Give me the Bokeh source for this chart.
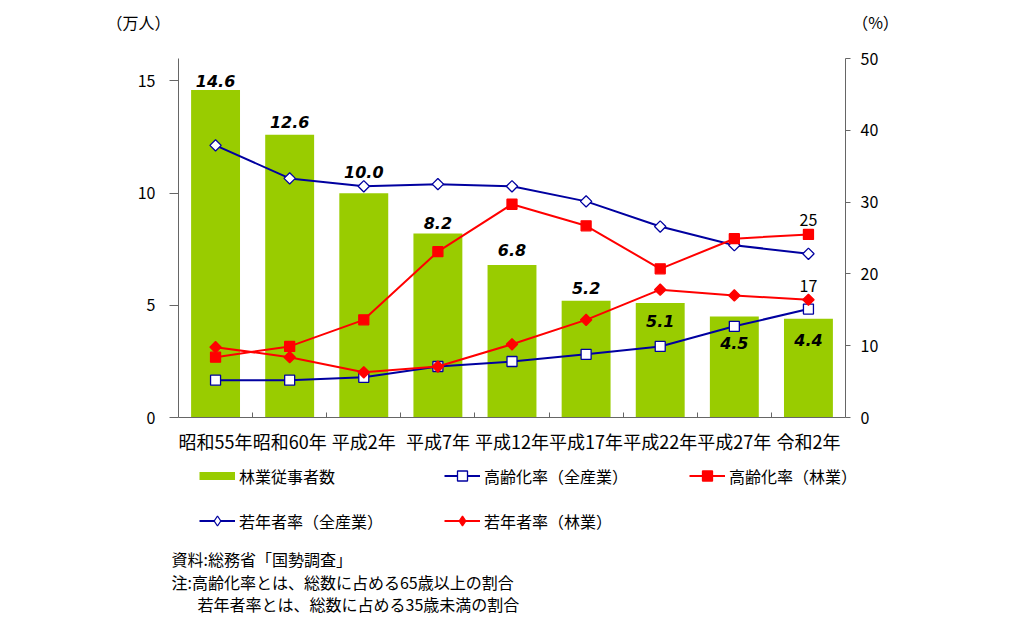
import numpy as np
from bokeh.plotting import figure
from bokeh.layouts import column
from bokeh.models import (Range1d, LinearAxis, FixedTicker, Legend, LegendItem,
                          ColumnDataSource)
from bokeh.core.properties import value
from bokeh.embed import file_html
from bokeh.resources import INLINE

# ---------------- data ----------------
categories = ["昭和55年", "昭和60年", "平成2年", "平成7年", "平成12年",
              "平成17年", "平成22年", "平成27年", "令和2年"]
workers = [14.6, 12.6, 10.0, 8.2, 6.8, 5.2, 5.1, 4.5, 4.4]          # 万人
worker_labels = ["14.6", "12.6", "10.0", "8.2", "6.8", "5.2", "5.1", "4.5", "4.4"]
aging_all = [5.2, 5.2, 5.6, 7.1, 7.8, 8.8, 9.9, 12.7, 15.1]         # %
aging_forest = [8.4, 9.9, 13.6, 23.1, 29.7, 26.7, 20.7, 24.9, 25.5]  # %
young_all = [37.9, 33.3, 32.2, 32.5, 32.2, 30.1, 26.6, 24.0, 22.8]  # %
young_forest = [9.8, 8.4, 6.3, 7.1, 10.2, 13.6, 17.8, 17.0, 16.4]   # %
end_labels = ["25", "17"]
legend_labels = ["林業従事者数", "高齢化率（全産業）", "高齢化率（林業）",
                 "若年者率（全産業）", "若年者率（林業）"]
left_ticks = [0, 5, 10, 15]
right_ticks = [0, 10, 20, 30, 40, 50]
unit_labels = ["（万人）", "（%）"]
notes = ["資料:総務省「国勢調査」",
         "注:高齢化率とは、総数に占める65歳以上の割合",
         "若年者率とは、総数に占める35歳未満の割合"]

# ---------------- style ----------------
JP = "Noto Sans CJK JP"
GREEN = "#99CC00"
BLUE = "#0000A0"
RED = "#FF0000"
AXIS = "#666666"
W = 1016
HEAD_H = 42
# label centre offset from bar top in px (negative = above the bar)
label_dy = [-9, -13, -21, -11, -15, -13, 18, 26, 21]

idx = list(range(len(categories)))


def blank(height, y0, y1):
    f = figure(width=W, height=height, output_backend="svg", toolbar_location=None,
               x_range=Range1d(0, W), y_range=Range1d(y1, y0),
               x_axis_type=None, y_axis_type=None,
               min_border_left=0, min_border_right=0, min_border_top=0,
               min_border_bottom=0)
    f.frame_align = False
    f.outline_line_color = None
    f.grid.visible = False
    return f

# ---------------- header (unit labels) ----------------
head = blank(HEAD_H, 0, HEAD_H)
head.text(x=[138, 875], y=[21, 21], text=unit_labels, text_font=value(JP),
          text_font_size="16px", text_align="center", text_baseline="middle",
          text_color="black")

# ---------------- main chart ----------------
p = figure(width=W, height=457 - HEAD_H, output_backend="svg", toolbar_location=None,
           x_range=Range1d(-0.5, len(categories) - 0.5), y_range=Range1d(0, 16),
           min_border_left=178, min_border_right=W - 845, min_border_top=58 - HEAD_H,
           min_border_bottom=40)
p.frame_align = False
p.outline_line_color = None
p.xgrid.visible = False
p.ygrid.visible = False
p.extra_y_ranges = {"pct": Range1d(0, 50)}

p.vbar(x=idx, top=workers, width=0.66, fill_color=GREEN, line_color=None)

src_lab = ColumnDataSource(dict(x=idx, y=workers, t=worker_labels, off=label_dy))
p.text(x="x", y="y", text="t", y_offset="off", source=src_lab,
       text_font=value("DejaVu Sans"), text_font_style="bold italic",
       text_font_size="16px", text_align="center", text_baseline="middle",
       text_color="black")


def series(fig, xs, ys, color, diamond, legend_proxy=False, **kw):
    ln = fig.line(xs, ys, line_color=color, line_width=2, **kw)
    fill = "white" if color == BLUE else color
    if diamond and legend_proxy:
        sc = fig.scatter(xs, ys, marker="diamond", size=11, fill_color=fill,
                         line_color=color, line_width=1.3, **kw)
    elif diamond:
        sc = fig.scatter(xs, ys, marker="square", angle=np.pi / 4, size=8,
                         fill_color=fill, line_color=color, line_width=1.3, **kw)
    else:
        sc = fig.scatter(xs, ys, marker="square", size=10, fill_color=fill,
                         line_color=color, line_width=1.3, **kw)
    return [ln, sc]


series(p, idx, aging_all, BLUE, False, y_range_name="pct")
series(p, idx, young_forest, RED, True, y_range_name="pct")
series(p, idx, young_all, BLUE, True, y_range_name="pct")
series(p, idx, aging_forest, RED, False, y_range_name="pct")

src_end = ColumnDataSource(dict(x=[idx[-1], idx[-1]],
                                y=[aging_forest[-1], young_forest[-1]],
                                t=end_labels))
p.text(x="x", y="y", text="t", source=src_end, y_range_name="pct",
       y_offset=-14, text_font=value(JP), text_font_size="16px",
       text_align="center", text_baseline="middle", text_color="black")

p.xaxis.ticker = FixedTicker(ticks=idx, minor_ticks=[i + 0.5 for i in idx[:-1]])
p.xaxis.major_label_overrides = {i: c for i, c in zip(idx, categories)}
p.xaxis.major_tick_line_color = None
p.xaxis.minor_tick_line_color = AXIS
p.xaxis.minor_tick_in = 5
p.xaxis.minor_tick_out = 0
p.xaxis.axis_line_color = AXIS
p.xaxis.major_label_text_font = JP
p.xaxis.major_label_text_font_size = "18px"
p.xaxis.major_label_text_color = "black"
p.xaxis.major_label_standoff = 4

p.yaxis.ticker = FixedTicker(ticks=left_ticks)
p.yaxis.axis_line_color = AXIS
p.yaxis.major_tick_line_color = AXIS
p.yaxis.major_tick_out = 9
p.yaxis.major_tick_in = 0
p.yaxis.minor_tick_line_color = None
p.yaxis.major_label_text_font = JP
p.yaxis.major_label_text_font_size = "16px"
p.yaxis.major_label_text_color = "black"
p.yaxis.major_label_standoff = 14

ry = LinearAxis(y_range_name="pct", ticker=FixedTicker(ticks=right_ticks))
ry.axis_line_color = AXIS
ry.major_tick_line_color = AXIS
ry.major_tick_out = 5
ry.major_tick_in = 0
ry.minor_tick_line_color = None
ry.major_label_text_font = JP
ry.major_label_text_font_size = "16px"
ry.major_label_text_color = "black"
ry.major_label_standoff = 10
p.add_layout(ry, "right")

# ---------------- footer (legend + notes) ----------------
foot = blank(168, 457, 625)
nan = [np.nan]
bar_proxy = foot.line(x=nan, y=nan, line_color=GREEN, line_width=8)
g_aa = series(foot, nan, nan, BLUE, False, True)
g_af = series(foot, nan, nan, RED, False, True)
g_ya = series(foot, nan, nan, BLUE, True, True)
g_yf = series(foot, nan, nan, RED, True, True)
items = [LegendItem(label=legend_labels[0], renderers=[bar_proxy]),
         LegendItem(label=legend_labels[1], renderers=g_aa),
         LegendItem(label=legend_labels[2], renderers=g_af),
         LegendItem(label=legend_labels[3], renderers=g_ya),
         LegendItem(label=legend_labels[4], renderers=g_yf)]
leg = Legend(items=items, location=(199, 92), orientation="horizontal", ncols=3,
             glyph_width=36, glyph_height=25, label_height=20, label_width=185,
             label_standoff=4, spacing=20, padding=0, margin=0,
             border_line_color=None, background_fill_alpha=0,
             label_text_font=JP, label_text_font_size="16px",
             label_text_color="black")
foot.add_layout(leg, "center")

foot.text(x=[171, 171, 197], y=[558, 581, 603], text=notes, text_font=value(JP),
          text_font_size="16px", text_align="left", text_baseline="middle",
          text_color="black")

layout = column(head, p, foot, spacing=0)
open("out.html", "w").write(file_html(layout, INLINE))
